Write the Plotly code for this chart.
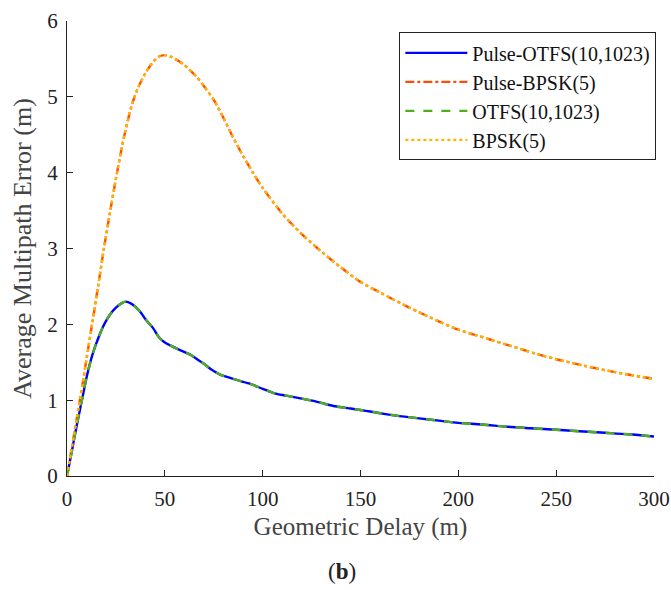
import plotly.graph_objects as go

# Geometric delay (m) and average multipath error (m)
otfs_x = [0, 2.5, 5, 8, 10, 13, 16, 19, 22, 25, 28, 30, 33, 37, 40, 44, 47, 50, 53, 57,
          63, 67, 70, 74, 78, 85, 93, 100, 106, 112, 120, 126, 132, 137, 145, 150, 155,
          162, 170, 180, 190, 200, 212, 225, 237, 250, 262, 275, 287, 300]
otfs_y = [0, 0.33, 0.67, 1.05, 1.30, 1.60, 1.82, 2.00, 2.13, 2.22, 2.28, 2.30, 2.27, 2.18,
          2.07, 1.95, 1.83, 1.76, 1.72, 1.67, 1.60, 1.53, 1.48, 1.40, 1.34, 1.28, 1.22,
          1.15, 1.09, 1.06, 1.02, 0.99, 0.95, 0.92, 0.89, 0.87, 0.85, 0.82, 0.79, 0.76,
          0.73, 0.70, 0.68, 0.65, 0.63, 0.61, 0.59, 0.57, 0.55, 0.52]

bpsk_x = [0, 2.5, 5, 8, 10, 13, 16, 19, 22, 25, 28, 30, 33, 36, 40, 44, 47, 50, 53, 56,
          60, 66, 70, 75, 80, 85, 90, 95, 100, 110, 120, 130, 140, 150, 160, 175, 190,
          200, 215, 225, 240, 250, 265, 280, 300]
bpsk_y = [0, 0.38, 0.76, 1.22, 1.55, 2.03, 2.52, 3.02, 3.48, 3.92, 4.33, 4.57, 4.88, 5.10,
          5.31, 5.46, 5.53, 5.55, 5.53, 5.49, 5.42, 5.27, 5.14, 4.96, 4.72, 4.46, 4.22,
          4.00, 3.80, 3.46, 3.19, 2.96, 2.75, 2.56, 2.42, 2.22, 2.04, 1.93, 1.81, 1.73,
          1.61, 1.54, 1.45, 1.37, 1.28]

names = ["Pulse-OTFS(10,1023)", "Pulse-BPSK(5)", "OTFS(10,1023)", "BPSK(5)"]
colors = ["#0000FF", "#FF4A0A", "#4DAF1E", "#FFB300"]
dashes = ["solid", "dashdot", "dash", "dot"]
series = [(otfs_x, otfs_y), (bpsk_x, bpsk_y), (otfs_x, otfs_y), (bpsk_x, bpsk_y)]

font = "Liberation Serif"

fig = go.Figure()
for (xs, ys), n, c, d in zip(series, names, colors, dashes):
    fig.add_trace(go.Scatter(x=xs, y=ys, mode="lines", name=n,
                             line=dict(color=c, width=2.4, dash=d, shape="spline", smoothing=0.8)))

fig.update_layout(
    width=671, height=590,
    margin=dict(l=67, r=17, t=21, b=114),
    paper_bgcolor="white", plot_bgcolor="white",
    font=dict(family=font, color="#222222", size=21),
    showlegend=True,
    legend=dict(x=1.004, y=0.975, xanchor="right", yanchor="top",
                bordercolor="#222222", borderwidth=1, bgcolor="white",
                font=dict(family=font, size=20, color="#111111"),
                itemwidth=62, tracegroupgap=0),
    xaxis=dict(range=[0, 300], tickvals=[0, 50, 100, 150, 200, 250, 300],
               showline=True, linecolor="#222222", linewidth=1.3,
               ticks="inside", ticklen=6, tickcolor="#222222",
               showgrid=False, zeroline=False, automargin=False,
               ticklabelstandoff=4,
               title=dict(text="Geometric Delay (m)", font=dict(size=25, color="#444444"), standoff=7)),
    yaxis=dict(range=[0, 6], tickvals=[0, 1, 2, 3, 4, 5, 6],
               showline=True, linecolor="#222222", linewidth=1.3,
               ticks="inside", ticklen=6, tickcolor="#222222",
               showgrid=False, zeroline=False, automargin=False,
               ticklabelstandoff=4,
               title=dict(text="Average Multipath Error (m)", font=dict(size=26, color="#444444"), standoff=8)),
    annotations=[dict(text="(<b>b</b>)", xref="paper", yref="paper", x=0.468, y=-0.21,
                      xanchor="center", yanchor="middle", showarrow=False,
                      font=dict(family=font, size=23, color="#222222"))],
)

fig.write_html("out.html")
